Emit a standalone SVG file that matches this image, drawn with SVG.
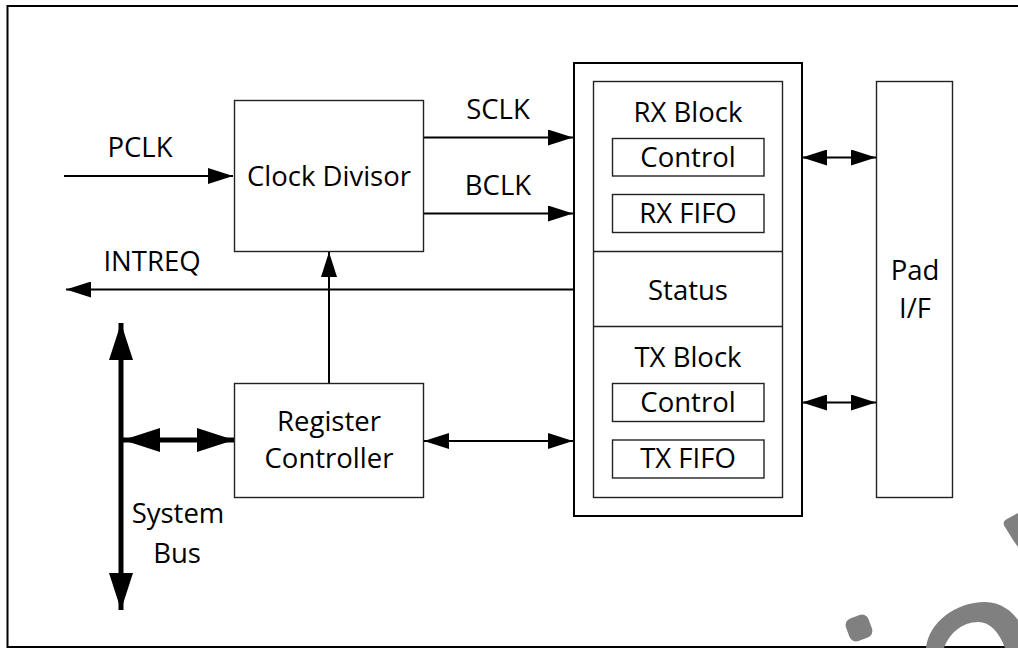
<svg xmlns="http://www.w3.org/2000/svg" width="1018" height="648" viewBox="0 0 1018 648">
<defs>
<style>
text{font-family:"Open Sans","Liberation Sans",sans-serif;font-size:27.5px;fill:#000;text-anchor:middle}
.box{fill:#fff;stroke:#222;stroke-width:1.4}
.wire{fill:none;stroke:#000;stroke-width:2}
.bus{fill:none;stroke:#000;stroke-width:5}
.wm{fill:#808080;stroke:none}
</style>
<marker id="ah" markerUnits="userSpaceOnUse" markerWidth="25" markerHeight="16" refX="25" refY="8" orient="auto-start-reverse"><path d="M0,0 L25,8 L0,16 Z" fill="#000"/></marker>
<marker id="ahb" markerUnits="userSpaceOnUse" markerWidth="37" markerHeight="24" refX="37" refY="12" orient="auto-start-reverse"><path d="M0,0 L37,12 L0,24 Z" fill="#000"/></marker>
</defs>
<rect x="0" y="0" width="1018" height="648" fill="#fff"/>
<path d="M1018,6 H7.5 V647 H1018" fill="none" stroke="#000" stroke-width="2"/>

<g id="connectors">
<path class="wire" d="M64,176 H233" marker-end="url(#ah)"/>
<path class="wire" d="M423,137.5 H573" marker-end="url(#ah)"/>
<path class="wire" d="M423,213.5 H573" marker-end="url(#ah)"/>
<path class="wire" d="M574,289.5 H66" marker-end="url(#ah)"/>
<path class="wire" d="M329,383 V252" marker-end="url(#ah)"/>
<path class="wire" d="M424,441 H573" marker-start="url(#ah)" marker-end="url(#ah)"/>
<path class="wire" d="M802,157.5 H876" marker-start="url(#ah)" marker-end="url(#ah)"/>
<path class="wire" d="M802,402.5 H876" marker-start="url(#ah)" marker-end="url(#ah)"/>
<path class="bus" d="M121,323 V610" marker-start="url(#ahb)" marker-end="url(#ahb)"/>
<path class="bus" d="M123,440 H234" marker-start="url(#ahb)" marker-end="url(#ahb)"/>
</g>

<g id="clock-divisor">
<rect class="box" x="234.5" y="100.5" width="189" height="151"/>
<text x="329" y="186">Clock Divisor</text>
</g>
<g id="register-controller">
<rect class="box" x="234.5" y="383.5" width="189" height="114"/>
<text x="329" y="431">Register</text>
<text x="329" y="468">Controller</text>
</g>

<g id="labels">
<text x="140" y="157">PCLK</text>
<text x="498" y="119">SCLK</text>
<text x="498" y="195">BCLK</text>
<text x="152" y="271">INTREQ</text>
<text x="178" y="523">System</text>
<text x="177" y="563">Bus</text>
</g>

<g id="container">
<rect x="574" y="63" width="228" height="453" fill="#fff" stroke="#000" stroke-width="2"/>
<rect class="box" x="593.5" y="81.5" width="189" height="416"/>
</g>
<g id="rx-block">
<text x="688" y="122">RX Block</text>
<rect class="box" x="612.5" y="138.5" width="151.5" height="37.5"/>
<text x="688" y="167">Control</text>
<rect class="box" x="612.5" y="194.5" width="151.5" height="38"/>
<text x="688" y="223">RX FIFO</text>
</g>
<g id="status">
<path class="box" d="M593.5,251.5 H782.5 M593.5,326.5 H782.5"/>
<text x="688" y="300">Status</text>
</g>
<g id="tx-block">
<text x="688" y="367">TX Block</text>
<rect class="box" x="612.5" y="383.5" width="151.5" height="38"/>
<text x="688" y="412">Control</text>
<rect class="box" x="612.5" y="440" width="151.5" height="38"/>
<text x="688" y="468">TX FIFO</text>
</g>
<g id="pad-if">
<rect class="box" x="876.5" y="81.5" width="76" height="416"/>
<text x="915" y="280">Pad</text>
<text x="915" y="318">I/F</text>
</g>

<g id="watermark">
<rect class="wm" x="847" y="616" width="24" height="24" rx="7" transform="rotate(-20 859 628)"/>
<path class="wm" d="M926,648 C929,622 956,602 985,602 C1000,602 1012,611 1018,620 L1018,648 L1005,648 C999,632 990,622 978,622 C962,622 949,634 944,648 Z"/>
<path class="wm" d="M1018,513 L1007,519 C1003,521 1003,524 1005,527 L1013,540 L1018,547 Z"/>
</g>
</svg>
